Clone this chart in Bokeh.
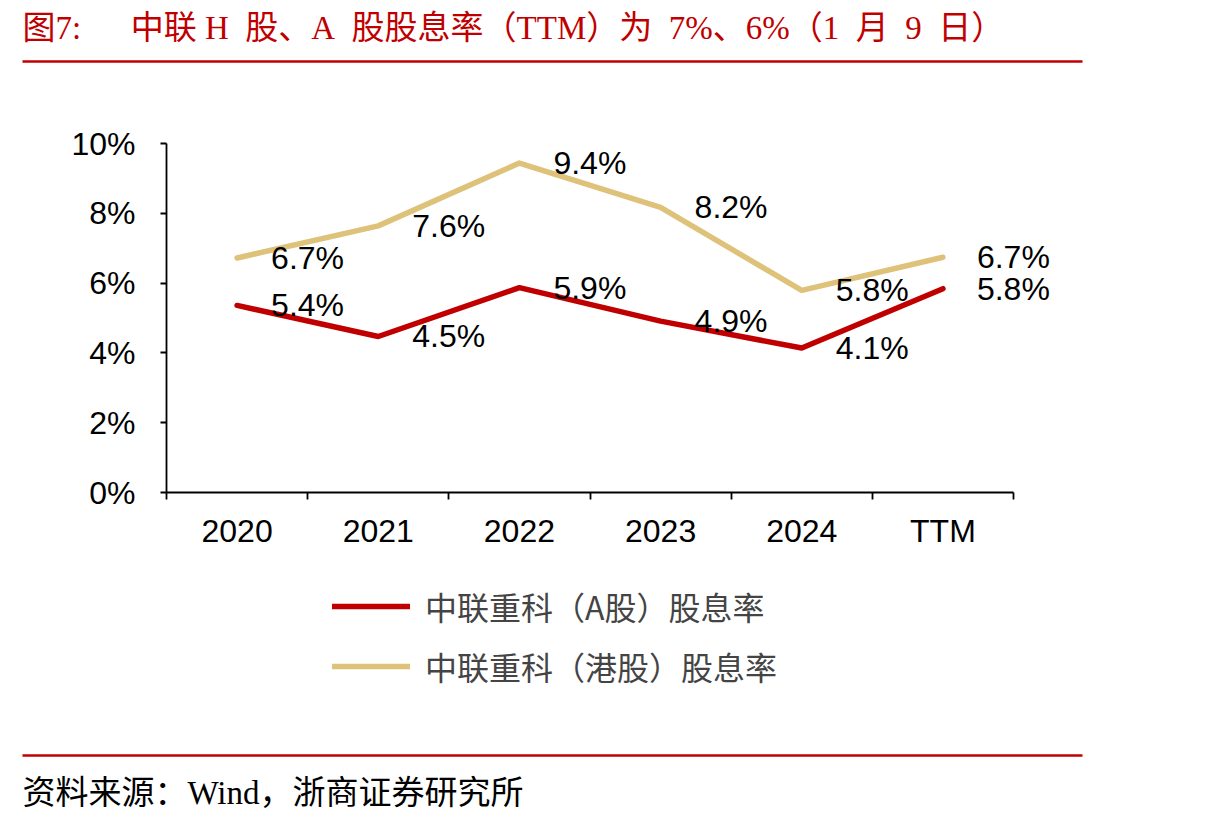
from bokeh.plotting import figure
from bokeh.models import Range1d, FixedTicker, Legend, LegendItem
from bokeh.core.properties import value
from bokeh.embed import file_html
from bokeh.resources import INLINE

# ---- data ----
categories = ["2020", "2021", "2022", "2023", "2024", "TTM"]
a_share = [5.36, 4.47, 5.87, 4.91, 4.14, 5.84]
h_share = [6.72, 7.64, 9.44, 8.17, 5.79, 6.74]
y_ticks = [0, 2, 4, 6, 8, 10]
series_names = ["中联重科（A股）股息率", "中联重科（港股）股息率"]
title_parts = ["图7:", "中联", "H", "股、A", "股股息率（TTM）为", "7%、6%（1", "月", "9", "日）"]
source_text = "资料来源：Wind，浙商证券研究所"

# ---- styling / layout constants ----
RED = "#C00000"
GOLD = "#DEC27A"
W, H = 1210, 823
SERIF = "'Liberation Serif', 'Noto Sans CJK SC'"
SANS = "'Liberation Sans', Arial"
NB = "\u00a0"
GAPS = [6, 1, 2, 2, 2, 2, 2, 2]          # non-breaking spaces between title parts
FL, FB = 12, 811                          # frame left / bottom on the canvas
AX_L, AX_R, AX_T, AX_B = 166, 1013, 143, 492   # chart area on the canvas
n = len(categories)
PX = (AX_R - AX_L) / n
PY = (AX_B - AX_T) / 10.0

title_text = title_parts[0]
for g, part in zip(GAPS, title_parts[1:]):
    title_text += NB * g + part

p = figure(width=W, height=H,
           x_range=Range1d(-0.5 - (AX_L - FL) / PX, n - 0.5 + (W - AX_R) / PX),
           y_range=Range1d(-(FB - AX_B) / PY, 10 + AX_T / PY),
           output_backend="svg", toolbar_location=None, title_location=None,
           min_border_left=FL, min_border_bottom=H - FB, min_border_top=0, min_border_right=0)
p.extra_x_ranges = {"px": Range1d(FL, W)}
p.extra_y_ranges = {"py": Range1d(FB, 0)}
p.outline_line_color = None
p.grid.visible = False

# axes (Bokeh axes drawn at the chart's own origin)
xa, ya = p.xaxis[0], p.yaxis[0]
xa.fixed_location = 0
xa.bounds = (-0.5, n - 0.5)
xa.ticker = FixedTicker(ticks=[i - 0.5 for i in range(n + 1)], minor_ticks=[])
xa.major_tick_out = 7
ya.fixed_location = -0.5
ya.bounds = (0, 10)
ya.ticker = FixedTicker(ticks=y_ticks, minor_ticks=[])
ya.major_tick_out = 6
for ax in (xa, ya):
    ax.major_tick_in = 0
    ax.minor_tick_line_color = None
    ax.axis_line_color = "black"
    ax.axis_line_width = 1.8
    ax.major_tick_line_width = 1.8
    ax.major_label_text_font_size = "1px"
    ax.major_label_text_color = None
    ax.major_label_standoff = 0

# tick labels
x = list(range(n))
p.text(x=x, y=[0] * n, text=categories, y_offset=38, text_align="center",
       text_baseline="middle", text_font=value(SANS), text_font_size="32px", text_color="black")
p.text(x=[-0.5] * len(y_ticks), y=y_ticks, text=[f"{t}%" for t in y_ticks], x_offset=-31,
       text_align="right", text_baseline="middle", text_font=value(SANS),
       text_font_size="32px", text_color="black")

# series
r_a = p.line(x, a_share, line_color=RED, line_width=5.5, line_cap="round", line_join="round")
r_h = p.line(x, h_share, line_color=GOLD, line_width=5.5, line_cap="round", line_join="round")
for vals in (a_share, h_share):
    p.text(x=x, y=vals, text=[f"{v:.1f}%" for v in vals], x_offset=34,
           text_baseline="middle", text_align="left", text_font=value(SANS),
           text_font_size="32px", text_color="black")

legend = Legend(items=[LegendItem(label=series_names[0], renderers=[r_a]),
                       LegendItem(label=series_names[1], renderers=[r_h])],
                location=(320, FB - 689), orientation="vertical",
                glyph_width=78, glyph_height=46, label_height=46, spacing=14,
                padding=0, margin=0, border_line_color=None, background_fill_alpha=0,
                label_text_font="Noto Sans CJK SC", label_text_font_size="32px",
                label_standoff=15)
p.add_layout(legend)

# title, rules and source (canvas pixel coordinates)
p.text(x=[22], y=[27], text=[title_text], x_range_name="px", y_range_name="py",
       text_color=RED, text_font=value(SERIF), text_font_size="33px",
       text_baseline="middle", text_align="left")
p.segment(x0=[22, 22], y0=[61, 755], x1=[1082, 1082], y1=[61, 755],
          x_range_name="px", y_range_name="py", line_color=RED, line_width=2.5)
p.text(x=[22], y=[792], text=[source_text], x_range_name="px", y_range_name="py",
       text_color="black", text_font=value(SERIF), text_font_size="33px",
       text_baseline="middle", text_align="left")

open("out.html", "w").write(file_html(p, INLINE))
